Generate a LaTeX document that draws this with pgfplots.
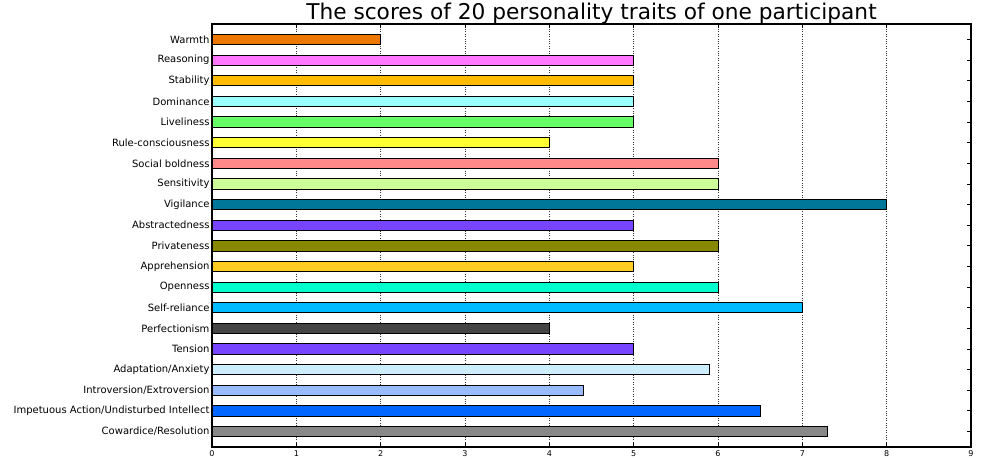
\documentclass[border=0pt]{standalone}
\usepackage{fontspec}
\setmainfont{DejaVu Sans}
\usepackage{pgfplots}
\pgfplotsset{compat=1.18}

\definecolor{cWarmth}{HTML}{EE7700}
\definecolor{cReason}{HTML}{FF77FF}
\definecolor{cStab}{HTML}{FFBB00}
\definecolor{cDom}{HTML}{99FFFF}
\definecolor{cLive}{HTML}{66FF66}
\definecolor{cRule}{HTML}{FFFF33}
\definecolor{cSocial}{HTML}{FF8888}
\definecolor{cSens}{HTML}{CCFF99}
\definecolor{cVig}{HTML}{007799}
\definecolor{cAbs}{HTML}{7744FF}
\definecolor{cPriv}{HTML}{888800}
\definecolor{cAppr}{HTML}{FFCC22}
\definecolor{cOpen}{HTML}{00FFCC}
\definecolor{cSelf}{HTML}{00BBFF}
\definecolor{cPerf}{HTML}{444444}
\definecolor{cTens}{HTML}{7744FF}
\definecolor{cAdapt}{HTML}{CCEEFF}
\definecolor{cIntro}{HTML}{99BBFF}
\definecolor{cImpet}{HTML}{0066FF}
\definecolor{cCow}{HTML}{888888}

\pgfplotsset{mybar/.style={xbar, bar width=10.3pt, bar shift=0pt, draw=black, line width=0.8pt}}

\begin{document}
\begin{tikzpicture}
\begin{axis}[
    scale only axis, width=759pt, height=423pt,
    xmin=0, xmax=9, ymin=-0.75, ymax=19.75,
    xtick={0,...,9}, ytick={0,...,19},
    yticklabels={Cowardice/Resolution, Impetuous Action/Undisturbed Intellect,
      Introversion/Extroversion, Adaptation/Anxiety, Tension, Perfectionism,
      Self-reliance, Openness, Apprehension, Privateness, Abstractedness,
      Vigilance, Sensitivity, Social boldness, Rule-consciousness, Liveliness,
      Dominance, Stability, Reasoning, Warmth},
    xmajorgrids, grid style={dotted, black!80, line width=0.8pt},
    tick align=inside, tick pos=both,
    major tick length=4pt,
    tick style={black, line width=0.8pt},
    axis line style={line width=1.2pt},
    /pgf/number format/assume math mode=true,
    xticklabel style={font=\fontsize{8}{9}\selectfont},
    yticklabel style={font=\fontsize{10}{12}\selectfont, xshift=1pt},
    title={The scores of 20 personality traits of one participant},
    title style={font=\fontsize{21.7}{24}\selectfont, yshift=-10pt},
]
\addplot[mybar, fill=cWarmth] coordinates {(2,19)};
\addplot[mybar, fill=cReason] coordinates {(5,18)};
\addplot[mybar, fill=cStab] coordinates {(5,17)};
\addplot[mybar, fill=cDom] coordinates {(5,16)};
\addplot[mybar, fill=cLive] coordinates {(5,15)};
\addplot[mybar, fill=cRule] coordinates {(4,14)};
\addplot[mybar, fill=cSocial] coordinates {(6,13)};
\addplot[mybar, fill=cSens] coordinates {(6,12)};
\addplot[mybar, fill=cVig] coordinates {(8,11)};
\addplot[mybar, fill=cAbs] coordinates {(5,10)};
\addplot[mybar, fill=cPriv] coordinates {(6,9)};
\addplot[mybar, fill=cAppr] coordinates {(5,8)};
\addplot[mybar, fill=cOpen] coordinates {(6,7)};
\addplot[mybar, fill=cSelf] coordinates {(7,6)};
\addplot[mybar, fill=cPerf] coordinates {(4,5)};
\addplot[mybar, fill=cTens] coordinates {(5,4)};
\addplot[mybar, fill=cAdapt] coordinates {(5.9,3)};
\addplot[mybar, fill=cIntro] coordinates {(4.4,2)};
\addplot[mybar, fill=cImpet] coordinates {(6.5,1)};
\addplot[mybar, fill=cCow] coordinates {(7.3,0)};
\end{axis}
\path (-212pt,-11pt) rectangle (770pt,447pt);
\end{tikzpicture}
\end{document}
